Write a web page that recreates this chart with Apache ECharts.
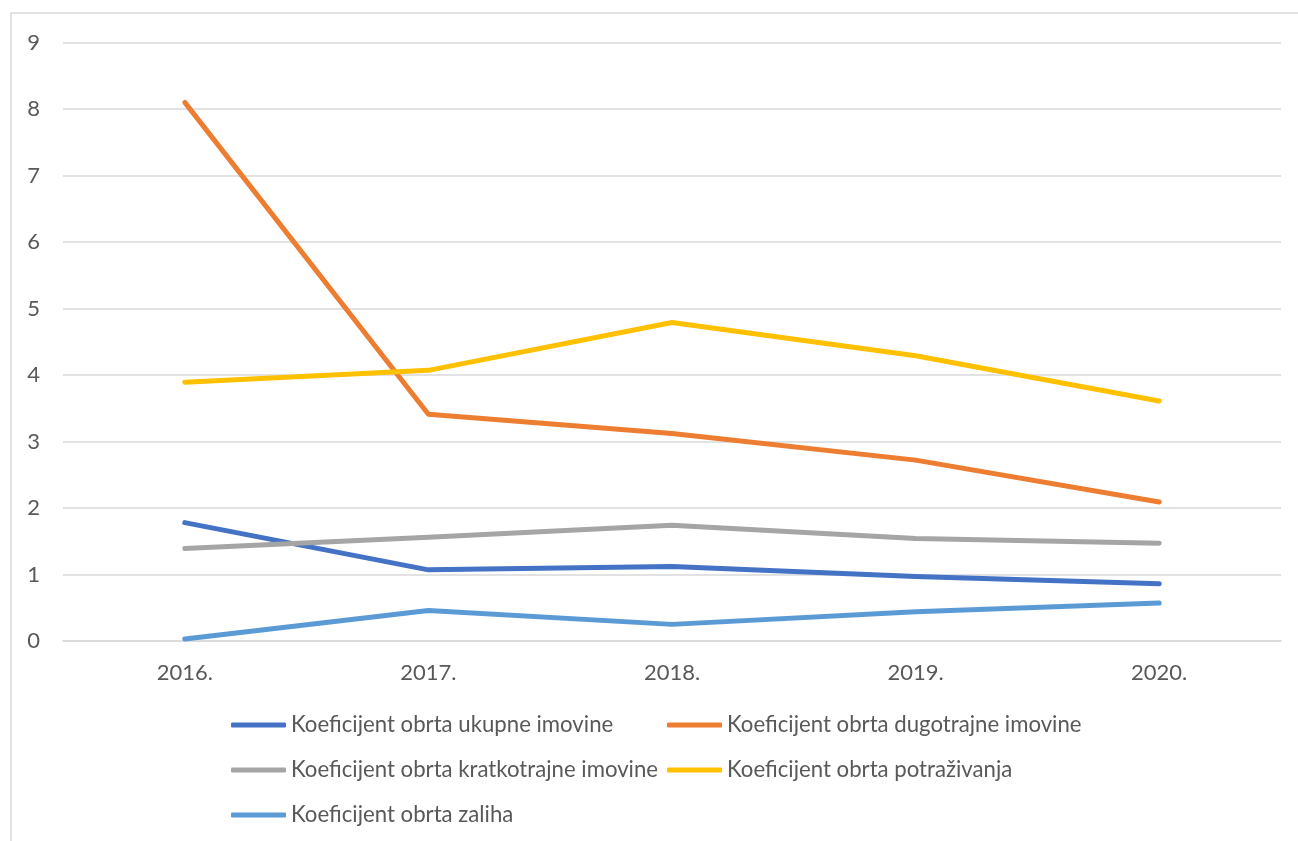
<!DOCTYPE html>
<html>
<head>
<meta charset="utf-8">
<script src="https://cdn.jsdelivr.net/npm/echarts@6/dist/echarts.min.js"></script>
<style>
html,body{margin:0;padding:0;background:#fff;}
#chart{width:1298px;height:841px;}
</style>
</head>
<body>
<div id="chart"></div>
<script>
var years = ['2016.', '2017.', '2018.', '2019.', '2020.'];
var seriesNames = [
  'Koeficijent obrta ukupne imovine',
  'Koeficijent obrta dugotrajne imovine',
  'Koeficijent obrta kratkotrajne imovine',
  'Koeficijent obrta potraživanja',
  'Koeficijent obrta zaliha'
];
var ukupne = [1.78, 1.07, 1.12, 0.97, 0.86];
var dugotrajne = [8.10, 3.41, 3.12, 2.72, 2.09];
var kratkotrajne = [1.39, 1.56, 1.74, 1.54, 1.47];
var potrazivanja = [3.89, 4.07, 4.79, 4.29, 3.61];
var zaliha = [0.03, 0.46, 0.25, 0.44, 0.57];
var yTicks = [0, 1, 2, 3, 4, 5, 6, 7, 8, 9];

var colors = ['#4472C4', '#ED7D31', '#A5A5A5', '#FFC000', '#5B9BD5'];
var values = [ukupne, dugotrajne, kratkotrajne, potrazivanja, zaliha];
var fontFam = 'Lato, sans-serif';
var textCol = '#595959';

var legendPos = [[231, 713], [667, 713], [231, 758], [667, 758], [231, 803]];
var legends = seriesNames.map(function (n, i) {
  return {
    data: [n],
    left: legendPos[i][0],
    top: legendPos[i][1],
    orient: 'horizontal',
    icon: 'roundRect',
    itemWidth: 55,
    itemHeight: 5,
    selectedMode: false,
    padding: 0,
    textStyle: { color: textCol, fontSize: 22.2, fontFamily: fontFam, lineHeight: 24 }
  };
});

var chart = echarts.init(document.getElementById('chart'), null, { renderer: 'canvas' });
chart.setOption({
  animation: false,
  color: colors,
  graphic: [{
    type: 'rect',
    shape: { x: 11, y: 13, width: 1300, height: 840 },
    style: { fill: null, stroke: '#d9d9d9', lineWidth: 1.5 },
    silent: true
  }],
  legend: legends,
  grid: { left: 63, right: 17, top: 42.5, bottom: 200 },
  xAxis: {
    type: 'category',
    data: years,
    boundaryGap: true,
    axisLine: { lineStyle: { color: '#d9d9d9', width: 1.5 } },
    axisTick: { show: false },
    axisLabel: { color: textCol, fontSize: 22, fontFamily: fontFam, margin: 21 },
    splitLine: { show: false }
  },
  yAxis: {
    type: 'value',
    min: yTicks[0],
    max: yTicks[yTicks.length - 1],
    interval: 1,
    axisLine: { show: false },
    axisTick: { show: false },
    axisLabel: { color: textCol, fontSize: 22, fontFamily: fontFam, margin: 23 },
    splitLine: { lineStyle: { color: '#d9d9d9', width: 1.5 } }
  },
  series: seriesNames.map(function (n, i) {
    return {
      name: n,
      type: 'line',
      data: values[i],
      showSymbol: false,
      symbol: 'none',
      lineStyle: { color: colors[i], width: 5, cap: 'round', join: 'round' },
      itemStyle: { color: colors[i] },
      z: 2 + i
    };
  })
});
</script>
</body>
</html>
